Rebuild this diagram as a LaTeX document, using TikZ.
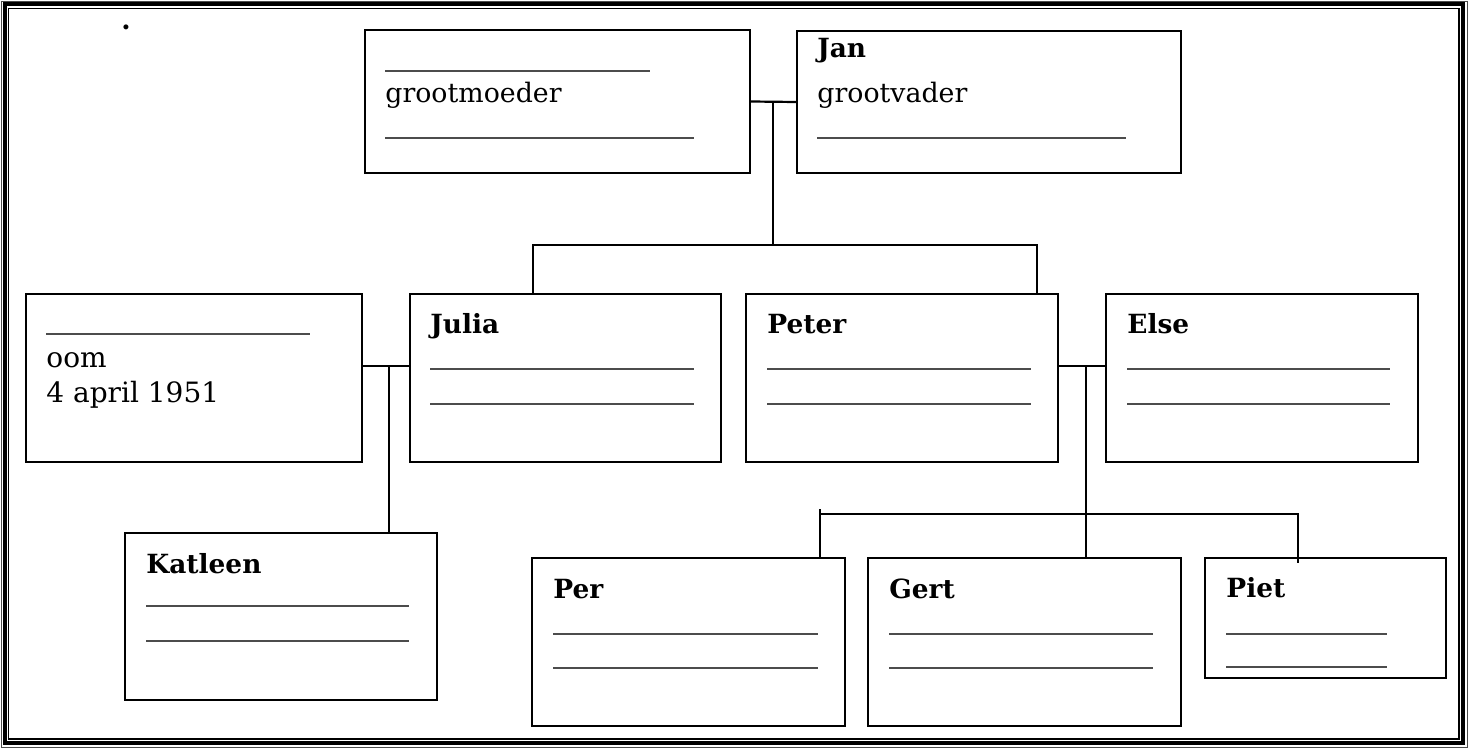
\documentclass[tikz,border=0pt]{standalone}
\usepackage{fontspec}
\setmainfont{DejaVu Serif}
\usetikzlibrary{fit}
\tikzset{
  boxst/.style={draw=black, line width=1.2pt, inner sep=0pt, rectangle},
  connst/.style={draw=black, line width=1.1pt},
  blankln/.style={draw=black!70, line width=0.9pt},
  bodytxt/.style={inner sep=0pt, anchor=base west, font={\fontsize{13.4pt}{16pt}\selectfont}},
  bigbody/.style={inner sep=0pt, anchor=base west, font={\fontsize{14pt}{16pt}\selectfont}},
  nametxt/.style={inner sep=0pt, anchor=base west, font={\fontsize{13.2pt}{16pt}\selectfont\bfseries}}
}
\begin{document}
\begin{tikzpicture}[x=0.5pt,y=-0.5pt]
\useasboundingbox (0,0) rectangle (1469,749);
% frame
\draw[line width=0.6pt, black!70] (1.5,1.5) rectangle (1467.5,747.5);
\draw[line width=2pt] (4.5,4.5) rectangle (1463,743);
\draw[line width=0.6pt] (8.5,8.5) rectangle (1459,739);
% dot
\node[bodytxt, anchor=base] (dot) at (126,30) {\bfseries .};
% boxes
\node[boxst, fit={(365,30) (750,173)}] (gm) {};
\node[boxst, fit={(797,31) (1181,173)}] (jan) {};
\node[boxst, fit={(26,294) (362,462)}] (oom) {};
\node[boxst, fit={(410,294) (721,462)}] (julia) {};
\node[boxst, fit={(746,294) (1058,462)}] (peter) {};
\node[boxst, fit={(1106,294) (1418,462)}] (else) {};
\node[boxst, fit={(125,533) (437,700)}] (katleen) {};
\node[boxst, fit={(532,558) (845,726)}] (per) {};
\node[boxst, fit={(868,558) (1181,726)}] (gert) {};
\node[boxst, fit={(1205,558) (1446,678)}] (piet) {};
% grootmoeder
\draw[blankln] (385,71) -- (650,71);
\node[bodytxt] (t1) at (385,103) {grootmoeder};
\draw[blankln] (385,138) -- (694,138);
% Jan
\node[nametxt] (t2) at (817,58) {Jan};
\node[bodytxt] (t3) at (817,103) {grootvader};
\draw[blankln] (817,138) -- (1126,138);
% oom
\draw[blankln] (46,334) -- (310,334);
\node[bigbody] (t4) at (46,367) {oom};
\node[bigbody] (t5) at (46,402) {4 april 1951};
% Julia
\node[nametxt] (t6) at (430,333) {Julia};
\draw[blankln] (430,369) -- (694,369);
\draw[blankln] (430,404) -- (694,404);
% Peter
\node[nametxt] (t7) at (767,333) {Peter};
\draw[blankln] (767,369) -- (1031,369);
\draw[blankln] (767,404) -- (1031,404);
% Else
\node[nametxt] (t8) at (1127,333) {Else};
\draw[blankln] (1127,369) -- (1390,369);
\draw[blankln] (1127,404) -- (1390,404);
% Katleen
\node[nametxt] (t9) at (146,573) {Katleen};
\draw[blankln] (146,606) -- (409,606);
\draw[blankln] (146,641) -- (409,641);
% Per
\node[nametxt] (t10) at (553,598) {Per};
\draw[blankln] (553,634) -- (818,634);
\draw[blankln] (553,668) -- (818,668);
% Gert
\node[nametxt] (t11) at (889,598) {Gert};
\draw[blankln] (889,634) -- (1153,634);
\draw[blankln] (889,668) -- (1153,668);
% Piet
\node[nametxt] (t12) at (1226,597) {Piet};
\draw[blankln] (1226,634) -- (1387,634);
\draw[blankln, line width=0.6pt] (1226,667) -- (1387,667);
% connectors
\coordinate (gp) at (773,101.5);
\coordinate (gpd) at (773,245);
\coordinate (jl) at (533,245);
\coordinate (pr) at (1037,245);
\draw[connst] (gm.east) -- (jan.west);
\draw[connst] (gp) -- (gpd);
\draw[connst] (julia.north -| jl) -- (jl) -- (pr) -- (peter.north -| pr);
\coordinate (m1) at (389,366);
\draw[connst] (oom.east |- m1) -- (julia.west |- m1);
\draw[connst] (m1) -- (katleen.north -| m1);
\coordinate (m2) at (1086,366);
\draw[connst] (peter.east |- m2) -- (else.west |- m2);
\draw[connst] (m2) -- (gert.north -| m2);
\coordinate (ct) at (820,509);
\coordinate (c1) at (820,514);
\coordinate (c2) at (1298,514);
\coordinate (c3) at (1298,563);
\draw[connst] (ct) -- (per.north -| ct);
\draw[connst] (c1) -- (c2) -- (c3);
\end{tikzpicture}
\end{document}
